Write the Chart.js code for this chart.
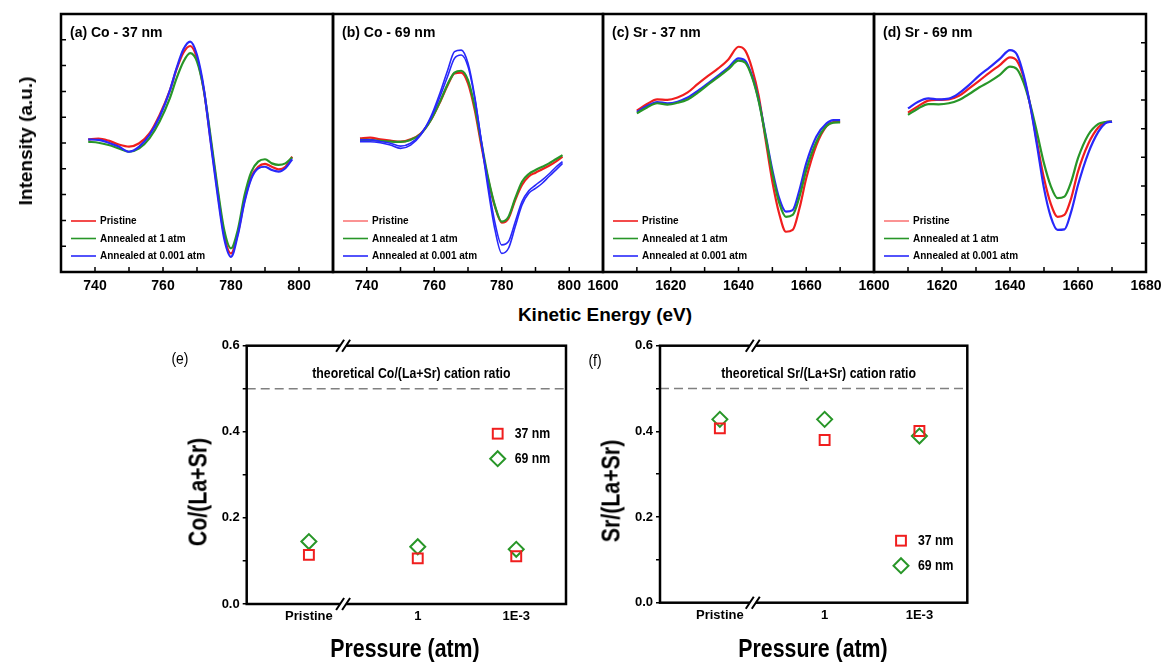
<!DOCTYPE html>
<html lang="en">
<head>
  <meta charset="UTF-8">
  <title>Co / Sr Auger spectra and cation ratios</title>
  <script src="https://cdn.jsdelivr.net/npm/chart.js"></script>
  <style>
    body { margin: 0; background: #fff; width: 1162px; height: 664px; position: relative; overflow: hidden; }
    canvas { position: absolute; }
    .t { position: absolute; font-weight: bold; white-space: nowrap; color: #000; font-family: "Liberation Sans", Arial, sans-serif; transform: translate(-50%, -50%); }
    .rot { transform: translate(-50%, -50%) rotate(-90deg); }
    .narrow { transform: translate(-50%, -50%) scaleX(0.82); }
    .rot.narrow { transform: translate(-50%, -50%) rotate(-90deg) scaleX(0.82); }
  </style>
</head>
<body>

  <!-- top row: spectra -->
  <canvas id="pa" width="322" height="300" style="left:36px;top:0"></canvas>
  <canvas id="pb" width="320" height="300" style="left:308px;top:0"></canvas>
  <canvas id="pc" width="321" height="300" style="left:578px;top:0"></canvas>
  <canvas id="pd" width="322" height="300" style="left:849px;top:0"></canvas>

  <!-- bottom row: ratios -->
  <canvas id="pe" width="430" height="334" style="left:170px;top:330px"></canvas>
  <canvas id="pf" width="400" height="334" style="left:600px;top:330px"></canvas>

  <div class="t rot" style="left:26px;top:141px;font-size:19px">Intensity (a.u.)</div>
  <div class="t" style="left:605px;top:315px;font-size:19px">Kinetic Energy (eV)</div>

  <div class="t narrow" style="left:180px;top:359px;font-size:17px;font-weight:normal">(e)</div>
  <div class="t narrow" style="left:595px;top:361px;font-size:17px;font-weight:normal">(f)</div>
  <div class="t rot narrow" style="left:198px;top:492px;font-size:26px">Co/(La+Sr)</div>
  <div class="t rot narrow" style="left:611px;top:491px;font-size:26px">Sr/(La+Sr)</div>
  <div class="t narrow" style="left:405px;top:648px;font-size:26px">Pressure (atm)</div>
  <div class="t narrow" style="left:813px;top:648px;font-size:26px">Pressure (atm)</div>

  <script>
    // ---- spectra data (intensity in arbitrary units, 0-100 panel height) ----
    const conditions = ['Pristine', 'Annealed at 1 atm', 'Annealed at 0.001 atm'];

    const energyCo = [738, 741, 744, 747, 750, 753, 756, 759, 762, 764, 766, 768, 770, 772, 774, 776, 778, 780, 782, 784, 786, 788, 790, 792, 794, 796, 798];
    const energySr = [1610, 1613, 1616, 1619, 1622, 1625, 1628, 1631, 1634, 1637, 1640, 1642, 1644, 1646, 1648, 1650, 1652, 1654, 1656, 1658, 1660, 1663, 1666, 1668, 1670];

    // (a) Co - 37 nm
    const co37Pristine = [51.4, 51.7, 50.9, 49.4, 48.6, 49.9, 53.7, 60.9, 70.3, 78.6, 85.0, 87.6, 82.8, 70.5, 51.2, 31.8, 14.3, 7.2, 15.0, 27.9, 37.0, 40.8, 41.9, 40.8, 39.8, 40.8, 44.7];
    const co37Atm1 = [50.5, 50.1, 49.2, 47.9, 46.6, 47.9, 51.8, 58.3, 67.3, 75.1, 81.5, 84.8, 81.5, 70.5, 52.5, 33.1, 16.3, 9.2, 16.3, 29.8, 38.9, 42.8, 43.7, 42.1, 41.5, 42.1, 44.4];
    const co37Atm001 = [51.4, 51.2, 50.1, 48.6, 46.6, 48.6, 53.1, 60.2, 70.3, 79.0, 86.3, 89.3, 84.1, 71.2, 50.5, 30.5, 13.0, 5.9, 14.3, 27.3, 36.3, 40.2, 40.8, 39.5, 38.9, 40.2, 43.7];

    // (b) Co - 69 nm
    const co69Pristine = [51.8, 52.1, 51.4, 50.9, 50.5, 51.4, 53.7, 58.9, 66.7, 72.5, 77.0, 77.3, 73.1, 62.8, 48.6, 35.7, 25.3, 19.1, 20.8, 27.9, 33.7, 37.0, 38.5, 39.8, 41.2, 42.8, 44.7];
    const co69Atm1 = [51.2, 51.2, 50.8, 50.5, 50.4, 51.2, 53.5, 58.9, 66.9, 72.9, 77.3, 78.0, 74.4, 64.1, 49.9, 36.3, 25.6, 19.5, 21.4, 28.6, 35.0, 38.0, 39.5, 40.8, 42.1, 43.7, 45.3];
    const co69Atm001 = [50.5, 50.5, 50.1, 49.2, 47.9, 49.2, 53.1, 60.2, 70.5, 78.3, 85.4, 86.0, 80.9, 68.0, 49.9, 31.8, 16.3, 7.2, 9.2, 17.6, 26.0, 30.5, 32.4, 34.4, 37.0, 39.5, 42.1];
    const co69Atm001b = [51.2, 51.2, 50.6, 49.9, 48.8, 49.9, 53.5, 59.6, 69.0, 76.0, 82.8, 84.1, 79.6, 67.3, 50.5, 33.7, 19.0, 10.5, 11.8, 19.5, 27.3, 31.5, 33.7, 35.7, 38.0, 40.6, 42.8];

    // (c) Sr - 37 nm
    const sr37Pristine = [62.5, 65.1, 66.9, 66.7, 67.6, 69.6, 72.9, 76.0, 78.9, 82.4, 87.3, 85.8, 78.9, 68.0, 51.2, 35.0, 22.7, 15.6, 16.3, 24.7, 36.3, 49.2, 56.6, 58.1, 58.3];
    const sr37Atm1 = [61.5, 63.8, 65.4, 64.9, 65.6, 66.9, 69.5, 72.6, 75.5, 78.6, 81.9, 81.1, 75.5, 66.0, 52.5, 38.2, 26.9, 21.4, 22.1, 29.2, 39.5, 50.5, 56.6, 57.9, 58.0];
    const sr37Atm001 = [62.0, 64.3, 65.9, 65.4, 66.0, 67.6, 70.2, 73.1, 76.1, 79.2, 82.8, 81.9, 76.0, 66.4, 53.1, 39.5, 28.6, 23.4, 24.0, 31.8, 42.1, 52.5, 57.6, 58.9, 58.9];

    // (d) Sr - 69 nm
    const sr69Pristine = [61.8, 64.3, 66.4, 66.7, 66.9, 68.3, 71.2, 74.2, 77.3, 80.2, 83.2, 81.9, 75.5, 64.3, 49.9, 36.3, 26.4, 21.4, 22.1, 28.6, 38.9, 49.6, 56.1, 58.0, 58.3];
    const sr69Atm1 = [60.9, 63.4, 65.1, 65.0, 65.4, 66.7, 69.0, 71.6, 73.8, 76.4, 79.6, 78.7, 73.4, 64.7, 53.7, 42.1, 33.3, 28.6, 29.2, 35.0, 44.1, 53.1, 57.4, 58.1, 58.3];
    const sr69Atm001 = [63.4, 66.0, 67.3, 66.9, 67.2, 69.3, 72.5, 76.2, 79.3, 82.6, 86.0, 84.4, 76.4, 64.1, 48.6, 32.4, 21.4, 16.3, 16.5, 23.4, 33.7, 46.0, 54.4, 57.6, 58.3];

    const coTicks = [740, 760, 780, 800];
    const srTicksC = [1600, 1620, 1640, 1660];
    const srTicksD = [1600, 1620, 1640, 1660, 1680];

    // ---- cation ratio data ----
    const pressureLabels = ['Pristine', '1', '1E-3'];
    const pressurePos = [1, 2.05, 3];
    const coRatio37 = [0.114, 0.106, 0.111];
    const coRatio69 = [0.145, 0.133, 0.127];
    const srRatio37 = [0.407, 0.380, 0.401];
    const srRatio69 = [0.428, 0.428, 0.389];
    const theoryRatio = 0.5;

    const RED = 'rgb(240,30,30)';
    const GREEN = 'rgb(40,150,40)';
    const BLUE = 'rgb(40,40,250)';
    const PINK = 'rgb(250,120,120)';
    const ARIAL = '"Liberation Sans", Arial, sans-serif';

    // condensed text: no narrow face installed, so squeeze horizontally
    function narrowText(ctx, text, x, y, align, sx) {
      ctx.save();
      ctx.translate(x, y);
      ctx.scale(sx, 1);
      ctx.textAlign = align;
      ctx.fillText(text, 0, 0);
      ctx.restore();
    }

    // frame, inward ticks, panel label and legend for the spectra
    const panelDeco = {
      id: 'panelDeco',
      afterDatasetsDraw(chart, args, o) {
        const { ctx, chartArea: a, scales: { x, y } } = chart;
        ctx.save();
        ctx.strokeStyle = '#000';
        ctx.lineWidth = 1.5;
        ctx.beginPath();
        for (let v = x.min; v <= x.max; v += 10) {
          const px = x.getPixelForValue(v);
          ctx.moveTo(px, a.bottom);
          ctx.lineTo(px, a.bottom - 5);
        }
        if (o.ySide) {
          const ex = o.ySide === 'left' ? a.left : a.right;
          const dir = o.ySide === 'left' ? 5 : -5;
          for (let v = o.yStep; v < y.max - 1; v += o.yStep) {
            const py = y.getPixelForValue(v);
            ctx.moveTo(ex, py);
            ctx.lineTo(ex + dir, py);
          }
        }
        ctx.stroke();
        ctx.lineWidth = 2.5;
        ctx.strokeRect(a.left, a.top, a.right - a.left, a.bottom - a.top);

        ctx.fillStyle = '#000';
        ctx.textBaseline = 'middle';
        ctx.font = 'bold 14px ' + ARIAL;
        ctx.fillText(o.label, a.left + 9, a.top + 19);

        ctx.font = 'bold 10px ' + ARIAL;
        o.legend.forEach((c, i) => {
          const yy = a.bottom - 51 + i * 17.5;
          ctx.strokeStyle = c;
          ctx.lineWidth = 1.6;
          ctx.beginPath();
          ctx.moveTo(a.left + 10, yy);
          ctx.lineTo(a.left + 35, yy);
          ctx.stroke();
          ctx.fillText(conditions[i], a.left + 39, yy + 0.5);
        });
        ctx.restore();
      }
    };

    function spectrumChart(id, xs, series, xMin, xMax, tickVals, deco) {
      return new Chart(document.getElementById(id), {
        type: 'line',
        data: {
          datasets: series.map(s => ({
            data: xs.map((x, i) => ({ x: x, y: s.values[i] })),
            borderColor: s.color,
            borderWidth: s.width || 2.2,
            pointRadius: 0,
            cubicInterpolationMode: 'monotone',
            fill: false
          }))
        },
        options: {
          responsive: false,
          animation: false,
          events: [],
          layout: { padding: { left: 25, right: 25, top: 14, bottom: 0 } },
          plugins: { legend: { display: false }, tooltip: { enabled: false }, panelDeco: deco },
          scales: {
            x: {
              type: 'linear', min: xMin, max: xMax,
              grid: { display: false, drawTicks: false },
              border: { display: false },
              afterBuildTicks: s => { s.ticks = tickVals.map(v => ({ value: v })); },
              afterFit: s => { s.height = 28; },
              ticks: {
                color: '#000', padding: 6, maxRotation: 0, autoSkip: false,
                font: { family: ARIAL, weight: 'bold', size: 14 },
                callback: v => String(v)
              }
            },
            y: { display: false, min: 0, max: 100 }
          }
        },
        plugins: [panelDeco]
      });
    }

    spectrumChart('pa', energyCo, [
      { values: co37Atm001, color: BLUE },
      { values: co37Atm1, color: GREEN },
      { values: co37Pristine, color: RED }
    ], 730, 810, coTicks, { label: '(a) Co - 37 nm', legend: [RED, GREEN, BLUE], ySide: 'left', yStep: 10 });

    spectrumChart('pb', energyCo, [
      { values: co69Atm001, color: BLUE, width: 1.6 },
      { values: co69Atm001b, color: BLUE, width: 1.6 },
      { values: co69Atm1, color: GREEN },
      { values: co69Pristine, color: RED }
    ], 730, 810, coTicks, { label: '(b) Co - 69 nm', legend: [PINK, GREEN, BLUE] });

    spectrumChart('pc', energySr, [
      { values: sr37Atm1, color: GREEN },
      { values: sr37Atm001, color: BLUE },
      { values: sr37Pristine, color: RED }
    ], 1600, 1680, srTicksC, { label: '(c) Sr - 37 nm', legend: [RED, GREEN, BLUE] });

    spectrumChart('pd', energySr, [
      { values: sr69Atm001, color: BLUE },
      { values: sr69Atm1, color: GREEN },
      { values: sr69Pristine, color: RED }
    ], 1600, 1680, srTicksD, { label: '(d) Sr - 69 nm', legend: [PINK, GREEN, BLUE], ySide: 'right', yStep: 100 / 9 });

    // ---- ratio panels ----
    function drawSquare(ctx, x, y) {
      ctx.strokeStyle = RED; ctx.lineWidth = 2;
      ctx.strokeRect(x - 4.9, y - 4.9, 9.8, 9.8);
    }
    function drawDiamond(ctx, x, y) {
      ctx.strokeStyle = GREEN; ctx.lineWidth = 2;
      ctx.beginPath();
      ctx.moveTo(x, y - 7.5); ctx.lineTo(x + 7.5, y); ctx.lineTo(x, y + 7.5); ctx.lineTo(x - 7.5, y);
      ctx.closePath(); ctx.stroke();
    }

    const ratioDeco = {
      id: 'ratioDeco',
      beforeDatasetsDraw(chart, args, o) {
        const { ctx, chartArea: a, scales: { y } } = chart;
        const yy = y.getPixelForValue(theoryRatio);
        ctx.save();
        ctx.strokeStyle = '#808080';
        ctx.lineWidth = 1.5;
        ctx.setLineDash([9, 5]);
        ctx.beginPath();
        ctx.moveTo(a.left, yy);
        ctx.lineTo(a.right, yy);
        ctx.stroke();
        ctx.setLineDash([]);
        ctx.fillStyle = '#000';
        ctx.font = 'bold 14.5px ' + ARIAL;
        ctx.textBaseline = 'middle';
        narrowText(ctx, o.theoryText, (a.left + a.right) / 2 + 5, yy - 15, 'center', 0.85);
        ctx.restore();
      },
      afterDatasetsDraw(chart, args, o) {
        const { ctx, chartArea: a, scales: { x } } = chart;
        ctx.save();
        ctx.strokeStyle = '#000';
        ctx.lineWidth = 2.5;
        ctx.strokeRect(a.left, a.top, a.right - a.left, a.bottom - a.top);

        // axis break marks
        const bx = x.getPixelForValue(o.breakAt);
        [a.top, a.bottom].forEach(ey => {
          ctx.fillStyle = '#fff';
          ctx.fillRect(bx - 3, ey - 3, 6, 6);
          ctx.strokeStyle = '#000';
          ctx.lineWidth = 2;
          ctx.beginPath();
          [-3, 3].forEach(d => {
            ctx.moveTo(bx + d - 4, ey + 6);
            ctx.lineTo(bx + d + 4, ey - 6);
          });
          ctx.stroke();
        });

        // legend
        const lx = a.left + o.legendAt[0], ly = a.top + o.legendAt[1];
        drawSquare(ctx, lx, ly);
        drawDiamond(ctx, lx, ly + 25);
        ctx.fillStyle = '#000';
        ctx.font = 'bold 15px ' + ARIAL;
        ctx.textBaseline = 'middle';
        narrowText(ctx, '37 nm', lx + 17, ly, 'left', 0.82);
        narrowText(ctx, '69 nm', lx + 17, ly + 25, 'left', 0.82);
        ctx.restore();
      }
    };

    function ratioChart(id, s37, s69, pad, deco) {
      return new Chart(document.getElementById(id), {
        type: 'scatter',
        data: {
          datasets: [
            {
              data: pressurePos.map((x, i) => ({ x: x, y: s37[i] })),
              pointStyle: 'rect', pointRadius: 7, borderWidth: 2,
              borderColor: RED, backgroundColor: 'rgba(0,0,0,0)'
            },
            {
              data: pressurePos.map((x, i) => ({ x: x, y: s69[i] })),
              pointStyle: 'rectRot', pointRadius: 7.5, borderWidth: 2,
              borderColor: GREEN, backgroundColor: 'rgba(0,0,0,0)'
            }
          ]
        },
        options: {
          responsive: false,
          animation: false,
          events: [],
          layout: { padding: pad },
          plugins: { legend: { display: false }, tooltip: { enabled: false }, ratioDeco: deco },
          scales: {
            x: {
              type: 'linear', min: 0.4, max: 3.48,
              grid: { display: false, drawTicks: false },
              border: { display: false },
              afterBuildTicks: s => { s.ticks = pressurePos.map(v => ({ value: v })); },
              afterFit: s => { s.height = 25; },
              ticks: {
                color: '#000', padding: 5, maxRotation: 0, autoSkip: false,
                font: { family: ARIAL, weight: 'bold', size: 13 },
                callback: (v, i) => pressureLabels[i]
              }
            },
            y: {
              min: 0, max: 0.6,
              grid: { display: true, drawOnChartArea: false, drawTicks: true, tickLength: 4, color: '#000', lineWidth: 1.5 },
              border: { display: false },
              afterFit: s => { s.width = 40; },
              ticks: {
                stepSize: 0.1, color: '#000', padding: 3,
                font: { family: ARIAL, weight: 'bold', size: 13 },
                callback: v => (Math.round(v * 10) % 2 === 0 ? v.toFixed(1) : '')
              }
            }
          }
        },
        plugins: [ratioDeco]
      });
    }

    ratioChart('pe', coRatio37, coRatio69,
      { left: 36.7, right: 34, top: 15.7, bottom: 35 },
      { breakAt: 1.33, theoryText: 'theoretical Co/(La+Sr) cation ratio', legendAt: [251, 88] });

    ratioChart('pf', srRatio37, srRatio69,
      { left: 20, right: 32.7, top: 15.7, bottom: 36.3 },
      { breakAt: 1.33, theoryText: 'theoretical Sr/(La+Sr) cation ratio', legendAt: [241, 195] });
  </script>
</body>
</html>
